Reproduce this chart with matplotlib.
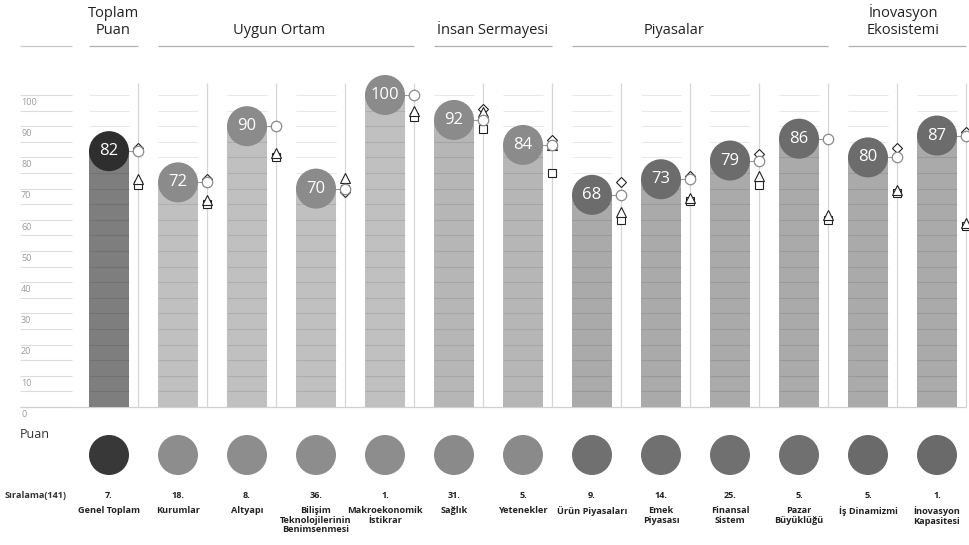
import numpy as np
import matplotlib
matplotlib.use('Agg')
import matplotlib.pyplot as plt

plt.rcParams['font.family'] = ['Open Sans', 'DejaVu Sans']

# Data
group_names = ['Toplam\nPuan', 'Uygun Ortam', 'İnsan Sermayesi', 'Piyasalar', 'İnovasyon\nEkosistemi']
group_sizes = [1, 4, 2, 4, 2]
categories = ['Genel Toplam', 'Kurumlar', 'Altyapı', 'Bilişim\nTeknolojilerinin\nBenimsenmesi',
              'Makroekonomik\nİstikrar', 'Sağlık', 'Yetenekler', 'Ürün Piyasaları', 'Emek\nPiyasası',
              'Finansal\nSistem', 'Pazar\nBüyüklüğü', 'İş Dinamizmi', 'İnovasyon\nKapasitesi']
scores = [82, 72, 90, 70, 100, 92, 84, 68, 73, 79, 86, 80, 87]
ranks = ['7.', '18.', '8.', '36.', '1.', '31.', '5.', '9.', '14.', '25.', '5.', '5.', '1.']
diamond_vals = [83, 73, 90, 69, 100, 95.5, 85.5, 72, 74, 81, 86, 83, 88]
triangle_vals = [73, 66.5, 81.5, 73.5, 95, 94.5, 84, 62.5, 67, 74, 61.5, 69.5, 59]
square_vals = [71, 65, 80, 70, 93, 89, 75, 60, 66, 71, 60, 68.5, 58]
y_ticks = np.arange(0, 101, 10)

# Styles per group
bar_colors = ['#7e7e7e', '#c0c0c0', '#b6b6b6', '#aaaaaa', '#aaaaaa']
dot_colors = ['#2e2e2e', '#8b8b8b', '#8b8b8b', '#6c6c6c', '#6c6c6c']
bottom_colors = ['#383838', '#8d8d8d', '#8a8a8a', '#707070', '#6a6a6a']
header_shift = [0, -7, 0, -26, -4]  # px


# layout helpers: pixel position -> data position
def py(p):
    return (407 - p) / 3.12


def px(p):
    return (p - 109) / 69.0


fig = plt.figure(figsize=(9.7, 5.45), dpi=100)
ax = fig.add_axes([0, 0, 1, 1])
ax.set_xlim(px(0), px(970))
ax.set_ylim(py(545), py(0))
ax.axis('off')

n = len(categories)
xs = np.arange(n)
col_group = np.repeat(np.arange(len(group_sizes)), group_sizes)
half_w = 20 / 69.0
line_off = 29 / 69.0

# left axis column
ax.hlines(np.arange(0, 101, 5), px(20), px(72), color='#dcdcdc', lw=0.8, zorder=1)
for t in y_ticks:
    ax.text(px(21), t - 0.9, str(t), fontsize=6.5, color='#9a9a9a', va='top', ha='left')
ax.hlines(0, px(20), xs[-1] + line_off, color='#d0d0d0', lw=0.9, zorder=1)

# bars
ax.bar(xs, scores, width=2 * half_w, color=[bar_colors[g] for g in col_group], zorder=2)
for x in xs:
    ax.hlines(np.arange(5, 101, 5), x - half_w, x + half_w, color='k', alpha=0.09, lw=0.8, zorder=3)
# vertical marker lines
ax.vlines(xs + line_off, 0, 104, color='#d6d6d6', lw=0.9, zorder=1)
# connectors
ax.hlines(scores, xs, xs + line_off, color='#9a9a9a', lw=0.8, zorder=3)

# comparison markers
ax.plot(xs + line_off, diamond_vals, 'D', ms=5, mfc='white', mec='#222', mew=0.8, ls='none', zorder=5)
ax.plot(xs + line_off, square_vals, 's', ms=6, mfc='white', mec='#222', mew=0.8, ls='none', zorder=5)
ax.plot(xs + line_off, triangle_vals, '^', ms=6.5, mfc='white', mec='#222', mew=0.8, ls='none', zorder=6)
ax.plot(xs + line_off, scores, 'o', ms=7.5, mfc='white', mec='#8a8a8a', mew=0.9, ls='none', zorder=7)

# value circles
ax.scatter(xs, scores, s=830, c=[dot_colors[g] for g in col_group], zorder=8, linewidths=0)
for x, s in zip(xs, scores):
    ax.text(x, s, str(s), color='white', fontsize=12, ha='center', va='center', zorder=9)

# bottom row
ax.text(px(20), py(435), 'Puan', fontsize=9, color='#333', ha='left', va='center')
ax.scatter(xs, np.full(n, py(455)), s=830, c=[bottom_colors[g] for g in col_group], linewidths=0)
ax.text(px(5), py(496), 'Sıralama(141)', fontsize=6.6, fontweight='bold', color='#333',
        ha='left', va='center')
for x, r, c in zip(xs, ranks, categories):
    ax.text(x, py(496), r, fontsize=6.6, fontweight='bold', color='#222', ha='center', va='center')
    ax.text(x, py(506), c, fontsize=6.6, fontweight='bold', color='#222', ha='center', va='top',
            linespacing=1.1)

# group headers
ax.hlines(py(46), px(20), px(72), color='#c8c8c8', lw=0.9)
start = 0
for name, size, shift in zip(group_names, group_sizes, header_shift):
    left = xs[start] - half_w
    right = xs[start + size - 1] + line_off
    ax.hlines(py(46), left, right, color='#b0b0b0', lw=0.9)
    ax.text((left + right) / 2 + shift / 69.0, py(38), name, fontsize=10.5, color='#222',
            ha='center', va='bottom', linespacing=1.15)
    start += size

fig.savefig('out.png', dpi=100)
